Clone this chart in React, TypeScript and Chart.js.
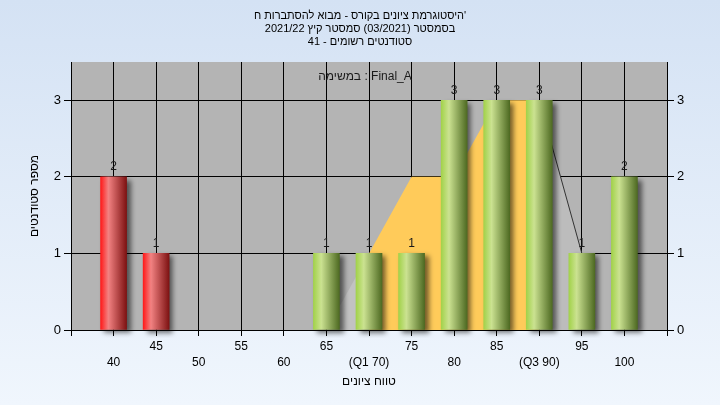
import React, { useEffect, useRef } from 'react';
import { Chart, registerables } from 'chart.js';

Chart.register(...registerables);

// ---- data ----
const grades = [40, 45, 50, 55, 60, 65, 70, 75, 80, 85, 90, 95, 100];
const counts = [2, 1, 0, 0, 0, 1, 1, 1, 3, 3, 3, 1, 2];
const passGrade = 55;
const q1 = 70;
const q3 = 90;
const areaGrades = [65, 70, 75, 80, 85, 90, 95];
const areaValues = [0, 1, 2, 2, 3, 3, 1];
const yTicks = [0, 1, 2, 3];
const titleLines = [
  "היסטוגרמת ציונים בקורס - מבוא להסתברות ח'",
  'בסמסטר (03/2021) סמסטר קיץ 2021/22',
  'סטודנטים רשומים - 41',
];
const xTitle = 'טווח ציונים';
const yTitle = 'מספר סטודנטים';
const taskLabel = 'במשימה : Final_A';

const FONT = "'Liberation Sans', Arial, sans-serif";
const BAR_W = 26;

const areaPts = areaGrades.map((g, i) => ({ x: g, y: areaValues[i] }));
const lowPts = areaPts.filter((p) => p.x <= q1);
const iqrPts = areaPts.filter((p) => p.x >= q1 && p.x <= q3);
const highPts = areaPts.filter((p) => p.x >= q3);

function barGradient(ctx: any) {
  const chart = ctx.chart;
  const raw = ctx.raw;
  if (!chart.chartArea || !raw) return '#9ACD40';
  const px = chart.scales.x.getPixelForValue(raw.x);
  const g = chart.ctx.createLinearGradient(px - BAR_W / 2, 0, px + BAR_W / 2, 0);
  if (raw.x < passGrade) {
    g.addColorStop(0, '#FF1A1A');
    g.addColorStop(0.3, '#F28282');
    g.addColorStop(1, '#7E1212');
  } else {
    g.addColorStop(0, '#A2D24A');
    g.addColorStop(0.3, '#CBE291');
    g.addColorStop(1, '#4E6A22');
  }
  return g;
}

const plotBg = {
  id: 'plotBg',
  beforeDraw(chart: any) {
    const { ctx, chartArea: a } = chart;
    ctx.save();
    ctx.fillStyle = '#B4B4B4';
    ctx.fillRect(a.left, a.top, a.right - a.left, a.bottom - a.top);
    ctx.restore();
  },
};

const barShadow = {
  id: 'barShadow',
  beforeDatasetDraw(chart: any, args: any) {
    if (args.meta.type !== 'bar') return;
    const ctx = chart.ctx;
    ctx.save();
    ctx.shadowColor = 'rgba(0,0,0,0.55)';
    ctx.shadowBlur = 5;
    ctx.shadowOffsetX = 4;
    ctx.shadowOffsetY = 3;
  },
  afterDatasetDraw(chart: any, args: any) {
    if (args.meta.type !== 'bar') return;
    chart.ctx.restore();
  },
};

const textPlugin = {
  id: 'texts',
  afterDatasetsDraw(chart: any) {
    const { ctx, chartArea: a } = chart;
    ctx.save();
    ctx.fillStyle = '#1a1a1a';
    ctx.font = `12px ${FONT}`;
    ctx.textAlign = 'center';
    ctx.textBaseline = 'bottom';
    chart.getSortedVisibleDatasetMetas().forEach((meta: any) => {
      if (meta.type !== 'bar') return;
      meta.data.forEach((el: any, i: number) => {
        const v = counts[i];
        if (!v) return;
        ctx.fillText(String(v), el.x, el.y - 4);
      });
    });
    ctx.textBaseline = 'middle';
    ctx.font = `12px ${FONT}`;
    ctx.fillText(taskLabel, (a.left + a.right) / 2 - 4, a.top + 15);
    ctx.restore();
  },
};

function xLabel(value: number) {
  const idx = grades.indexOf(value);
  if (idx < 0) return '';
  let s = String(value);
  if (value === q1) s = `(Q1 ${value})`;
  if (value === q3) s = `(Q3 ${value})`;
  return idx % 2 === 0 ? ['', s] : [s];
}

export default function App() {
  const ref = useRef<HTMLCanvasElement>(null);
  useEffect(() => {
    if (!ref.current) return;
    const keepTicks = (scale: any) => {
      scale.ticks = scale.ticks.filter((t: any) => yTicks.includes(t.value));
    };
    const chart = new Chart(ref.current, {
      type: 'bar',
      data: {
        datasets: [
          {
            type: 'bar',
            data: grades.map((g, i) => ({ x: g, y: counts[i] === 0 ? null : counts[i] })),
            backgroundColor: barGradient as any,
            borderWidth: 0,
            barThickness: BAR_W,
            order: 0,
            clip: { left: 0, top: 0, right: 10, bottom: 8 } as any,
            yAxisID: 'y',
          },
          {
            type: 'line',
            data: iqrPts,
            fill: 'origin',
            backgroundColor: '#FFCB5A',
            borderWidth: 0,
            borderColor: 'rgba(0,0,0,0)',
            pointRadius: 0,
            tension: 0,
            order: 1,
            yAxisID: 'y',
          },
          {
            type: 'line',
            data: lowPts,
            fill: 'origin',
            backgroundColor: '#C2C2C2',
            borderWidth: 0,
            borderColor: 'rgba(0,0,0,0)',
            pointRadius: 0,
            tension: 0,
            order: 2,
            yAxisID: 'y',
          },
          {
            type: 'line',
            data: highPts,
            fill: 'origin',
            backgroundColor: '#BCBCBC',
            borderWidth: 1,
            borderColor: '#333333',
            pointRadius: 0,
            tension: 0,
            order: 2,
            yAxisID: 'y',
          },
        ] as any,
      },
      options: {
        animation: false,
        responsive: false,
        events: [],
        layout: { padding: 0 },
        plugins: {
          legend: { display: false },
          tooltip: { enabled: false },
          title: {
            display: true,
            text: titleLines,
            color: '#000',
            font: { family: FONT, size: 11, weight: 'normal', lineHeight: 13 / 11 },
            padding: { top: 9, bottom: 14 },
          },
        },
        scales: {
          x: {
            type: 'linear',
            min: 35,
            max: 105,
            offset: false,
            afterFit: (s: any) => {
              s.height = 75;
            },
            ticks: {
              stepSize: 5,
              autoSkip: false,
              maxRotation: 0,
              color: '#000',
              padding: 3,
              font: { family: FONT, size: 12, lineHeight: 16 / 12 },
              callback: (v: any) => xLabel(Number(v)),
            },
            grid: { offset: false, color: '#000', lineWidth: 1, tickLength: 6, tickColor: '#000' },
            border: { color: '#000', width: 1 },
            title: {
              display: true,
              text: xTitle,
              color: '#000',
              font: { family: FONT, size: 12 },
              padding: { top: 0, bottom: 16 },
            },
          },
          y: {
            type: 'linear',
            position: 'left',
            min: 0,
            max: 3.5,
            afterFit: (s: any) => {
              s.width = 71;
            },
            afterBuildTicks: keepTicks,
            ticks: {
              stepSize: 1,
              color: '#000',
              padding: 3,
              font: { family: FONT, size: 13 },
            },
            grid: { color: '#000', lineWidth: 1, tickLength: 7, tickColor: '#000' },
            border: { color: '#000', width: 1 },
            title: {
              display: true,
              text: yTitle,
              color: '#000',
              font: { family: FONT, size: 12 },
              padding: { top: 27, bottom: 0 },
            },
          },
          y2: {
            type: 'linear',
            position: 'right',
            min: 0,
            max: 3.5,
            afterFit: (s: any) => {
              s.width = 53;
            },
            afterBuildTicks: keepTicks,
            ticks: {
              stepSize: 1,
              color: '#000',
              padding: 3,
              font: { family: FONT, size: 13 },
            },
            grid: { drawOnChartArea: false, tickLength: 7, tickColor: '#000' },
            border: { color: '#000', width: 1 },
          },
        },
      } as any,
      plugins: [plotBg, barShadow, textPlugin],
    });
    return () => chart.destroy();
  }, []);

  return (
    <div
      style={{
        position: 'fixed',
        left: 0,
        top: 0,
        width: 720,
        height: 405,
        background: 'linear-gradient(to bottom, #D4E2F4, #F0F6FD)',
      }}
    >
      <canvas ref={ref} width={720} height={405} style={{ width: 720, height: 405, display: 'block' }} />
    </div>
  );
}
